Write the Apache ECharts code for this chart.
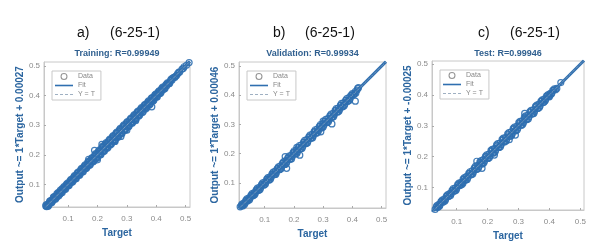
<!DOCTYPE html>
<html><head><meta charset="utf-8">
<script src="https://cdn.jsdelivr.net/npm/echarts@6/dist/echarts.min.js"></script>
<style>html,body{margin:0;padding:0;background:#fff}#c{width:607px;height:246px}</style>
</head><body><div id="c"></div>
<script>
// ---- data ----
const panelLetters = ['a)', 'b)', 'c)'];
const panelArch = ['(6-25-1)', '(6-25-1)', '(6-25-1)'];
const panelTitles = ['Training: R=0.99949', 'Validation: R=0.99934', 'Test: R=0.99946'];
const fitIntercepts = [0.00027, 0.00046, -0.00025];
const yNames = ['Output ~= 1*Target + 0.00027', 'Output ~= 1*Target + 0.00046', 'Output ~= 1*Target + -0.00025'];
const tickValues = [0.1, 0.2, 0.3, 0.4, 0.5];
const xRanges = [[0.018, 0.515], [0.012, 0.515], [0.02, 0.512]];
const yRanges = [[0.024, 0.513], [0.014, 0.514], [0.027, 0.51]];

const trainData = [[0.021,0.022],[0.024,0.027],[0.027,0.025],[0.030,0.033],[0.032,0.030],[0.035,0.037],[0.038,0.036],[0.041,0.044],[0.043,0.040],[0.046,0.048],[0.049,0.047],[0.052,0.055],[0.055,0.052],[0.058,0.061],[0.061,0.058],[0.063,0.066],[0.066,0.064],[0.069,0.072],[0.072,0.069],[0.075,0.078],[0.078,0.075],[0.081,0.084],[0.084,0.081],[0.087,0.090],[0.090,0.087],[0.093,0.096],[0.096,0.094],[0.099,0.102],[0.102,0.099],[0.105,0.108],[0.108,0.105],[0.111,0.114],[0.114,0.111],[0.117,0.120],[0.120,0.117],[0.123,0.127],[0.126,0.123],[0.129,0.132],[0.132,0.129],[0.135,0.139],[0.138,0.135],[0.141,0.144],[0.144,0.140],[0.147,0.151],[0.150,0.147],[0.153,0.157],[0.156,0.152],[0.159,0.163],[0.162,0.158],[0.165,0.169],[0.168,0.164],[0.171,0.175],[0.174,0.170],[0.177,0.181],[0.180,0.176],[0.183,0.188],[0.186,0.181],[0.189,0.194],[0.192,0.186],[0.195,0.200],[0.198,0.193],[0.201,0.206],[0.204,0.199],[0.207,0.212],[0.210,0.204],[0.213,0.219],[0.216,0.210],[0.219,0.225],[0.222,0.216],[0.225,0.231],[0.228,0.222],[0.231,0.237],[0.234,0.228],[0.237,0.243],[0.240,0.233],[0.243,0.249],[0.246,0.239],[0.249,0.255],[0.252,0.245],[0.255,0.261],[0.258,0.251],[0.261,0.267],[0.264,0.257],[0.267,0.273],[0.270,0.263],[0.273,0.279],[0.276,0.269],[0.279,0.285],[0.282,0.275],[0.285,0.291],[0.288,0.281],[0.291,0.297],[0.294,0.287],[0.297,0.303],[0.300,0.294],[0.303,0.309],[0.306,0.300],[0.309,0.314],[0.312,0.306],[0.315,0.320],[0.318,0.312],[0.321,0.326],[0.324,0.318],[0.327,0.332],[0.330,0.324],[0.333,0.338],[0.336,0.331],[0.339,0.344],[0.342,0.337],[0.345,0.349],[0.348,0.344],[0.351,0.355],[0.354,0.350],[0.357,0.361],[0.360,0.356],[0.363,0.367],[0.366,0.362],[0.369,0.372],[0.372,0.368],[0.375,0.378],[0.378,0.374],[0.381,0.384],[0.384,0.380],[0.387,0.390],[0.390,0.387],[0.393,0.396],[0.396,0.393],[0.399,0.402],[0.402,0.399],[0.405,0.408],[0.408,0.405],[0.411,0.414],[0.414,0.411],[0.417,0.420],[0.420,0.417],[0.424,0.426],[0.428,0.425],[0.432,0.434],[0.436,0.433],[0.440,0.442],[0.444,0.441],[0.449,0.451],[0.454,0.452],[0.460,0.461],[0.466,0.465],[0.473,0.474],[0.480,0.479],[0.488,0.489],[0.512,0.511],
  [0.190,0.215],[0.215,0.235],[0.200,0.183],[0.280,0.262],[0.300,0.283],[0.330,0.315],[0.385,0.362],[0.260,0.245],[0.170,0.185]];
const trainExtra = [[0.025,0.031],[0.031,0.026],[0.037,0.043],[0.044,0.038],[0.050,0.057],[0.057,0.050],[0.062,0.069],[0.068,0.061],[0.074,0.081],[0.080,0.073],[0.086,0.093],[0.092,0.085],[0.098,0.105],[0.104,0.097],[0.110,0.117],[0.116,0.109],[0.122,0.130],[0.128,0.120],[0.134,0.142],[0.140,0.132],[0.146,0.154],[0.152,0.144],[0.158,0.166],[0.164,0.156],[0.170,0.179],[0.176,0.167],[0.182,0.191],[0.188,0.179],[0.194,0.204],[0.200,0.190],[0.206,0.216],[0.212,0.201],[0.218,0.229],[0.224,0.213],[0.230,0.241],[0.236,0.225],[0.242,0.253],[0.248,0.237],[0.254,0.265],[0.260,0.249],[0.266,0.277],[0.272,0.261],[0.278,0.289],[0.284,0.273],[0.290,0.301],[0.296,0.285],[0.302,0.312],[0.308,0.297],[0.314,0.324],[0.320,0.309],[0.326,0.336],[0.332,0.321],[0.338,0.347],[0.344,0.334],[0.350,0.359],[0.356,0.346],[0.362,0.370],[0.368,0.359],[0.374,0.382],[0.380,0.371],[0.386,0.393],[0.392,0.384],[0.398,0.405],[0.404,0.396],[0.410,0.416],[0.416,0.409],[0.422,0.428],[0.430,0.424],[0.438,0.443],[0.446,0.441],[0.456,0.459],[0.470,0.468],[0.495,0.497],[0.503,0.502]];
const trainMore = [[0.034,0.029],[0.040,0.046],[0.047,0.043],[0.053,0.059],[0.060,0.055],[0.067,0.073],[0.073,0.068],[0.080,0.086],[0.087,0.082],[0.094,0.100],[0.101,0.096],[0.107,0.113],[0.113,0.108],[0.119,0.125],[0.125,0.119],[0.131,0.138],[0.137,0.131],[0.143,0.150],[0.149,0.142],[0.155,0.162],[0.161,0.154],[0.167,0.175],[0.173,0.165],[0.179,0.187],[0.185,0.177],[0.191,0.200],[0.197,0.188],[0.203,0.212],[0.209,0.199],[0.215,0.225],[0.221,0.211],[0.227,0.237],[0.233,0.222],[0.239,0.249],[0.245,0.234],[0.251,0.261],[0.257,0.246],[0.263,0.273],[0.269,0.258],[0.275,0.285],[0.281,0.270],[0.287,0.297],[0.293,0.282],[0.299,0.309],[0.305,0.294],[0.311,0.320],[0.317,0.306],[0.323,0.332],[0.329,0.318],[0.335,0.344],[0.341,0.331],[0.347,0.355],[0.353,0.343],[0.359,0.367],[0.365,0.355],[0.371,0.378],[0.377,0.368],[0.383,0.390],[0.389,0.381],[0.395,0.401],[0.401,0.394],[0.407,0.412],[0.413,0.407],[0.419,0.424],[0.426,0.421],[0.434,0.438],[0.442,0.439],[0.451,0.455],[0.463,0.461],[0.477,0.479],[0.492,0.491]];

const valData = [[0.016,0.018],[0.020,0.022],[0.024,0.021],[0.028,0.031],[0.033,0.030],[0.037,0.040],[0.041,0.038],[0.046,0.049],[0.050,0.047],[0.055,0.058],[0.059,0.056],[0.064,0.067],[0.068,0.065],[0.073,0.076],[0.077,0.074],[0.082,0.085],[0.086,0.083],[0.091,0.094],[0.095,0.092],[0.100,0.103],[0.104,0.101],[0.109,0.112],[0.113,0.110],[0.118,0.121],[0.122,0.119],[0.127,0.130],[0.131,0.128],[0.136,0.140],[0.140,0.136],[0.145,0.149],[0.149,0.145],[0.154,0.158],[0.158,0.154],[0.163,0.167],[0.167,0.163],[0.172,0.176],[0.176,0.172],[0.181,0.185],[0.185,0.181],[0.190,0.194],[0.194,0.190],[0.199,0.203],[0.203,0.199],[0.208,0.212],[0.212,0.207],[0.217,0.221],[0.221,0.216],[0.226,0.230],[0.230,0.225],[0.235,0.239],[0.239,0.234],[0.244,0.248],[0.248,0.243],[0.253,0.257],[0.257,0.252],[0.262,0.266],[0.266,0.261],[0.271,0.275],[0.275,0.270],[0.280,0.284],[0.284,0.279],[0.289,0.293],[0.293,0.288],[0.298,0.302],[0.302,0.297],[0.307,0.311],[0.311,0.306],[0.316,0.320],[0.320,0.315],[0.325,0.329],[0.329,0.324],[0.334,0.338],[0.338,0.333],[0.343,0.347],[0.347,0.342],[0.352,0.356],[0.356,0.351],[0.361,0.365],[0.365,0.360],[0.370,0.374],[0.374,0.369],[0.379,0.383],[0.383,0.378],[0.388,0.392],[0.392,0.388],[0.398,0.401],[0.404,0.402],[0.410,0.413],[0.416,0.418],[0.421,0.426],
  [0.170,0.190],[0.175,0.150],[0.210,0.222],[0.220,0.195],[0.292,0.275],[0.330,0.302],[0.410,0.380],[0.300,0.312]];
const valExtra = [[0.022,0.027],[0.030,0.025],[0.039,0.045],[0.048,0.042],[0.057,0.063],[0.066,0.060],[0.075,0.082],[0.084,0.077],[0.093,0.100],[0.102,0.095],[0.111,0.118],[0.120,0.113],[0.129,0.137],[0.138,0.130],[0.147,0.155],[0.156,0.148],[0.165,0.173],[0.174,0.166],[0.183,0.192],[0.192,0.183],[0.201,0.210],[0.210,0.201],[0.219,0.228],[0.228,0.219],[0.237,0.246],[0.246,0.237],[0.255,0.264],[0.264,0.255],[0.273,0.282],[0.282,0.273],[0.291,0.300],[0.300,0.291],[0.309,0.318],[0.318,0.309],[0.327,0.336],[0.336,0.327],[0.345,0.354],[0.354,0.345],[0.363,0.372],[0.372,0.364],[0.381,0.389],[0.390,0.383],[0.400,0.406],[0.412,0.408],[0.418,0.424]];
const valMore = [[0.026,0.024],[0.035,0.039],[0.044,0.041],[0.053,0.057],[0.062,0.058],[0.071,0.076],[0.080,0.075],[0.089,0.094],[0.098,0.093],[0.107,0.113],[0.116,0.110],[0.125,0.131],[0.134,0.128],[0.143,0.149],[0.152,0.146],[0.161,0.168],[0.170,0.163],[0.179,0.186],[0.188,0.181],[0.197,0.204],[0.206,0.199],[0.215,0.222],[0.224,0.217],[0.233,0.240],[0.242,0.235],[0.251,0.258],[0.260,0.253],[0.269,0.276],[0.278,0.271],[0.287,0.294],[0.296,0.289],[0.305,0.312],[0.314,0.307],[0.323,0.330],[0.332,0.325],[0.341,0.348],[0.350,0.343],[0.359,0.366],[0.368,0.362],[0.377,0.383],[0.386,0.381],[0.395,0.400],[0.407,0.404]];

const testData = [[0.030,0.029],[0.034,0.037],[0.038,0.035],[0.042,0.045],[0.046,0.043],[0.051,0.054],[0.055,0.052],[0.060,0.063],[0.064,0.061],[0.069,0.072],[0.073,0.070],[0.078,0.081],[0.082,0.079],[0.087,0.090],[0.091,0.088],[0.096,0.099],[0.100,0.097],[0.105,0.108],[0.109,0.106],[0.114,0.117],[0.118,0.115],[0.123,0.126],[0.127,0.124],[0.132,0.136],[0.136,0.132],[0.141,0.145],[0.145,0.141],[0.150,0.154],[0.154,0.150],[0.159,0.163],[0.163,0.159],[0.168,0.172],[0.172,0.168],[0.177,0.181],[0.181,0.177],[0.186,0.190],[0.190,0.186],[0.195,0.199],[0.199,0.195],[0.204,0.208],[0.208,0.203],[0.213,0.217],[0.217,0.212],[0.222,0.226],[0.226,0.221],[0.231,0.235],[0.235,0.230],[0.240,0.244],[0.244,0.239],[0.249,0.253],[0.253,0.248],[0.258,0.262],[0.262,0.257],[0.267,0.271],[0.271,0.266],[0.276,0.280],[0.280,0.275],[0.285,0.289],[0.289,0.284],[0.294,0.298],[0.298,0.293],[0.303,0.307],[0.307,0.302],[0.312,0.316],[0.316,0.311],[0.321,0.325],[0.325,0.320],[0.330,0.334],[0.334,0.329],[0.339,0.343],[0.343,0.338],[0.348,0.352],[0.352,0.347],[0.357,0.361],[0.361,0.356],[0.366,0.370],[0.370,0.365],[0.375,0.379],[0.379,0.375],[0.384,0.387],[0.388,0.385],[0.393,0.396],[0.398,0.395],[0.403,0.405],[0.408,0.406],[0.414,0.416],[0.437,0.440],
  [0.165,0.185],[0.182,0.162],[0.222,0.205],[0.320,0.340],[0.270,0.255],[0.290,0.270],[0.120,0.113],[0.400,0.394]];
const testExtra = [[0.036,0.041],[0.044,0.039],[0.053,0.059],[0.062,0.056],[0.071,0.077],[0.080,0.074],[0.089,0.096],[0.098,0.091],[0.107,0.114],[0.116,0.109],[0.125,0.132],[0.134,0.126],[0.143,0.151],[0.152,0.144],[0.161,0.169],[0.170,0.162],[0.179,0.187],[0.188,0.180],[0.197,0.206],[0.206,0.197],[0.215,0.224],[0.224,0.215],[0.233,0.242],[0.242,0.233],[0.251,0.260],[0.260,0.251],[0.269,0.278],[0.278,0.269],[0.287,0.296],[0.296,0.287],[0.305,0.314],[0.314,0.305],[0.323,0.332],[0.332,0.323],[0.341,0.350],[0.350,0.341],[0.359,0.367],[0.368,0.360],[0.377,0.384],[0.386,0.380],[0.396,0.401],[0.406,0.402],[0.416,0.420],[0.424,0.421]];
const testMore = [[0.040,0.037],[0.049,0.054],[0.058,0.055],[0.067,0.073],[0.076,0.072],[0.085,0.091],[0.094,0.089],[0.103,0.109],[0.112,0.107],[0.121,0.128],[0.130,0.124],[0.139,0.146],[0.148,0.141],[0.157,0.164],[0.166,0.159],[0.175,0.183],[0.184,0.176],[0.193,0.201],[0.202,0.194],[0.211,0.220],[0.220,0.212],[0.229,0.238],[0.238,0.230],[0.247,0.256],[0.256,0.248],[0.265,0.274],[0.274,0.266],[0.283,0.292],[0.292,0.284],[0.301,0.310],[0.310,0.302],[0.319,0.328],[0.328,0.320],[0.337,0.346],[0.346,0.338],[0.355,0.363],[0.364,0.357],[0.373,0.380],[0.382,0.376],[0.391,0.397],[0.401,0.398],[0.411,0.415],[0.420,0.417]];

const panelData = [
  trainData.concat(trainExtra, trainMore),
  valData.concat(valExtra, valMore),
  testData.concat(testExtra, testMore)
];

// ---- layout ----
const grids = [
  {left: 44, top: 62, width: 146, height: 145},
  {left: 239, top: 62, width: 147, height: 146},
  {left: 432, top: 61, width: 152, height: 149}
];
const blue = '#2f6fb0';
const nameBlue = '#2c66a0';
const yteColor = '#9fb0c2';
const font = 'Liberation Sans, Arial, sans-serif';

const option = {
  animation: false,
  backgroundColor: '#fff',
  grid: grids.map(g => Object.assign({show: true, borderColor: '#c8c8c8', borderWidth: 1, backgroundColor: '#fff'}, g)),
  xAxis: [], yAxis: [], series: [], legend: [], graphic: []
};

const letterX = [[77, 110], [273, 305], [478, 510]];

grids.forEach((g, i) => {
  const axisCommon = {
    type: 'value',
    gridIndex: i,
    splitLine: {show: false},
    axisLine: {show: true, lineStyle: {color: '#c8c8c8', width: 1}},
    axisTick: {show: true, inside: true, length: 2, customValues: tickValues, lineStyle: {color: '#aaa'}},
    axisLabel: {customValues: tickValues, fontSize: 8, color: '#8a8a8a', fontFamily: font, formatter: v => String(v)},
    nameLocation: 'middle',
    nameTextStyle: {fontSize: 10, fontWeight: 'bold', color: nameBlue, fontFamily: font}
  };
  option.xAxis.push(Object.assign({}, axisCommon, {
    min: xRanges[i][0], max: xRanges[i][1], name: 'Target', nameGap: 19,
    axisLabel: Object.assign({}, axisCommon.axisLabel, {margin: 8})
  }));
  option.yAxis.push(Object.assign({}, axisCommon, {
    min: yRanges[i][0], max: yRanges[i][1], name: yNames[i], nameGap: 17,
    axisLabel: Object.assign({}, axisCommon.axisLabel, {margin: 4})
  }));
  const x0 = xRanges[i][0], x1 = xRanges[i][1];
  option.series.push({
    name: 'Data', type: 'scatter', xAxisIndex: i, yAxisIndex: i,
    data: panelData[i], symbol: 'circle', symbolSize: 6,
    itemStyle: {color: 'rgba(0,0,0,0)', borderColor: blue, borderWidth: 1.2, opacity: 0.9},
    clip: true
  });
  option.series.push({
    name: 'Fit', type: 'line', xAxisIndex: i, yAxisIndex: i, showSymbol: false, symbol: 'none',
    data: [[x0, x0 + fitIntercepts[i]], [x1, x1 + fitIntercepts[i]]],
    lineStyle: {color: blue, width: 3}, itemStyle: {color: blue}, clip: true
  });
  option.series.push({
    name: 'Y = T', type: 'line', xAxisIndex: i, yAxisIndex: i, showSymbol: false, symbol: 'none',
    data: [[x0, x0], [x1, x1]],
    lineStyle: {color: yteColor, width: 1, type: 'dotted'}, itemStyle: {color: yteColor}, clip: true
  });
  option.legend.push({
    left: g.left + 8, top: g.top + 9, orient: 'vertical',
    data: [
      {name: 'Data', icon: 'path://M10,0A10,10 0 1,1 9.99,0ZM10,3A7,7 0 1,0 10.01,3Z', itemStyle: {color: '#8a8a8a', borderWidth: 0}},
      {name: 'Fit', icon: 'path://M0,0h18v1.6h-18z', itemStyle: {color: blue, borderWidth: 0}},
      {name: 'Y = T', icon: 'path://M0,0h3v1h-3zM5,0h3v1h-3zM10,0h3v1h-3zM15,0h3v1h-3z', itemStyle: {color: yteColor, borderWidth: 0}}
    ],
    itemWidth: 18, itemHeight: 7, itemGap: 2,
    padding: [2, 6, 2, 3],
    borderColor: '#c8c8c8', borderWidth: 1, backgroundColor: '#fff',
    textStyle: {fontSize: 7, color: '#888', fontFamily: font},
    selectedMode: false
  });
  option.graphic.push({type: 'text', left: letterX[i][0], top: 26, style: {text: panelLetters[i], font: '14px ' + font, fill: '#111'}});
  option.graphic.push({type: 'text', left: letterX[i][1], top: 26, style: {text: panelArch[i], font: '14px ' + font, fill: '#111'}});
  option.graphic.push({type: 'text', x: g.left + g.width / 2, y: 54, style: {text: panelTitles[i], font: 'bold 9px ' + font, fill: '#2f5f8f', align: 'center', verticalAlign: 'middle'}});
});

const chart = echarts.init(document.getElementById('c'), null, {renderer: 'canvas'});
chart.setOption(option);
</script></body></html>
